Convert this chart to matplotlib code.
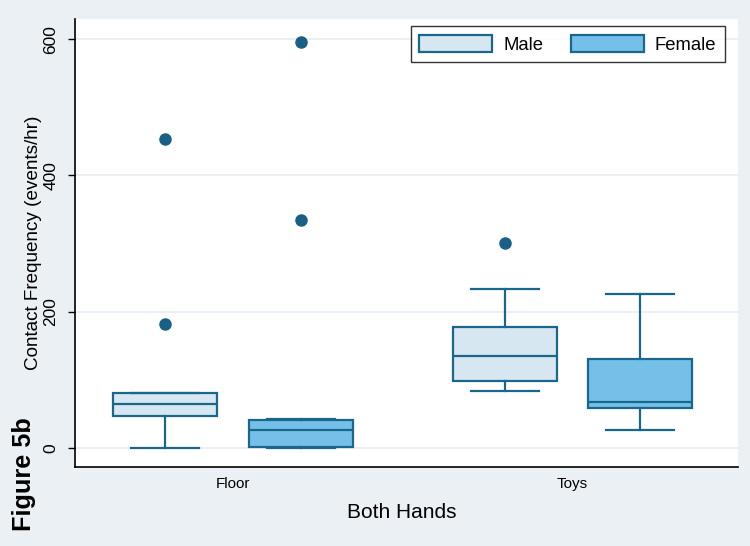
import matplotlib.pyplot as plt

plt.rcParams['font.family'] = ['Liberation Sans', 'DejaVu Sans']

# box statistics (events/hr)
categories = ["Floor", "Toys"]
groups = ["Male", "Female"]
q1 = {"Male": [47, 98], "Female": [2, 58]}
med = {"Male": [64, 135], "Female": [26, 67]}
q3 = {"Male": [80, 177], "Female": [41, 131]}
whislo = {"Male": [0, 83], "Female": [0, 27]}
whishi = {"Male": [80, 233], "Female": [43, 226]}
fliers = {"Male": [[453, 182], [301]], "Female": [[595, 334], []]}

edge = "#1b678c"
fills = {"Male": "#d7e7f1", "Female": "#74c0e9"}
offsets = {"Male": -0.2, "Female": 0.2}

fig = plt.figure(figsize=(7.5, 5.46), dpi=100)
fig.patch.set_facecolor("#eaf0f4")
ax = fig.add_axes([0.1, 0.1447, 0.884, 0.8203])
ax.set_facecolor("white")

for g in groups:
    stats = []
    for i in range(len(categories)):
        stats.append(dict(med=med[g][i], q1=q1[g][i], q3=q3[g][i],
                          whislo=whislo[g][i], whishi=whishi[g][i],
                          fliers=fliers[g][i]))
    pos = [i + 1 + offsets[g] for i in range(len(categories))]
    ax.bxp(stats, positions=pos, widths=0.306, patch_artist=True,
           manage_ticks=False,
           boxprops=dict(facecolor=fills[g], edgecolor=edge, linewidth=1.6),
           medianprops=dict(color=edge, linewidth=1.6),
           whiskerprops=dict(color=edge, linewidth=1.6),
           capprops=dict(color=edge, linewidth=1.6),
           capwidths=0.2,
           flierprops=dict(marker="o", markerfacecolor="#1a5f86",
                           markeredgecolor="#1a5f86", markersize=8))

ax.set_xlim(0.5346, 2.4875)
ax.set_ylim(-27.9, 629.3)
ax.set_xticks([1, 2])
ax.set_xticklabels(categories, fontsize=11)
ax.tick_params(axis="x", length=0, pad=7)
ax.set_yticks([0, 200, 400, 600])
ax.set_yticklabels(["0", "200", "400", "600"], fontsize=12.5,
                   rotation=90, va="center")
ax.tick_params(axis="y", length=5, width=1, pad=7)
ax.yaxis.grid(True, color="#e6edf1", linewidth=1.2)
ax.set_axisbelow(True)

for s in ["top", "right"]:
    ax.spines[s].set_visible(False)
for s in ["left", "bottom"]:
    ax.spines[s].set_linewidth(1.2)

ax.set_ylabel("Contact Frequency (events/hr)", fontsize=13.6)
ax.yaxis.set_label_coords(-0.05, 0.5)
ax.set_xlabel("Both Hands", fontsize=15)
ax.xaxis.set_label_coords(0.493, -0.08)

handles = [plt.Rectangle((0, 0), 1, 1, facecolor=fills[g], edgecolor=edge,
                         linewidth=1.6) for g in groups]
leg = ax.legend(handles, groups, ncol=2, loc="upper right",
                bbox_to_anchor=(0.980, 0.984), borderaxespad=0,
                fontsize=13.3, handlelength=3.95, handleheight=1.08,
                columnspacing=1.5, fancybox=False, borderpad=0.45,
                handletextpad=0.6)
leg.get_frame().set_edgecolor("black")
leg.get_frame().set_linewidth(1.0)

fig.text(0.016, 0.027, "Figure 5b", rotation=90, fontsize=18.2,
         fontweight="bold", ha="left", va="bottom")

fig.savefig("out.png", dpi=100, facecolor=fig.get_facecolor())
